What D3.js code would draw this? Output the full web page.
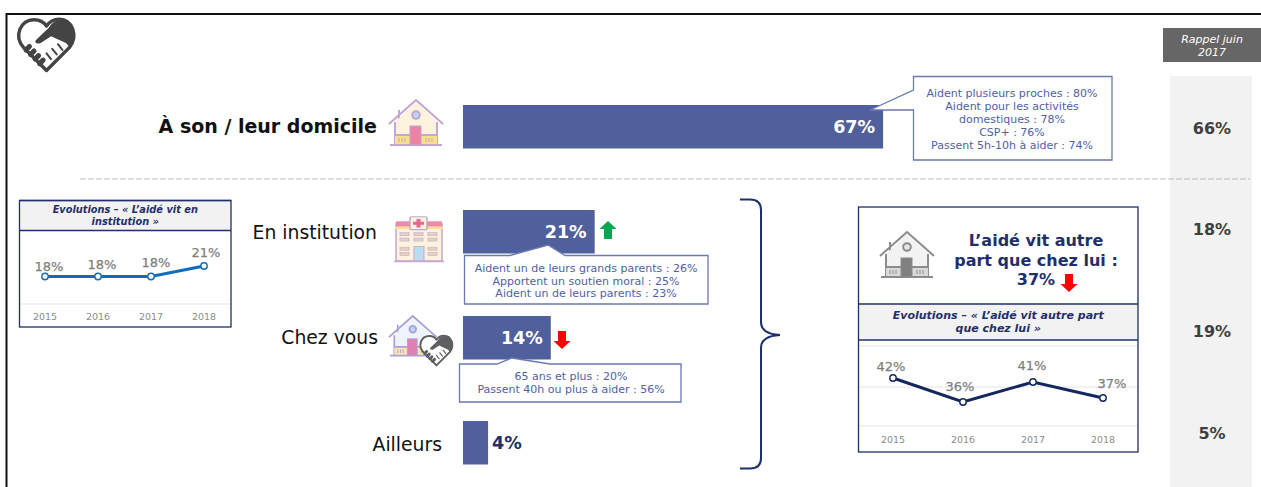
<!DOCTYPE html>
<html><head><meta charset="utf-8">
<script src="https://cdn.jsdelivr.net/npm/d3@7"></script>
<style>html,body{margin:0;padding:0;background:#fff;overflow:hidden}svg{display:block}text{font-family:"DejaVu Sans",Verdana,sans-serif}</style>
</head><body><svg id="c" width="1261" height="487"></svg>
<script>
const barCategories=["À son / leur domicile","En institution","Chez vous","Ailleurs"];
const barValues=[67,21,14,4];
const rappelValues=[66,18,19,5];
const years=["2015","2016","2017","2018"];
const institutionValues=[18,18,18,21];
const autrePartValues=[42,36,41,37];
const calloutDomicile=["Aident plusieurs proches : 80%","Aident pour les activités","domestiques : 78%","CSP+ : 76%","Passent 5h-10h à aider : 74%"];
const calloutInstitution=["Aident un de leurs grands parents : 26%","Apportent un soutien moral : 25%","Aident un de leurs parents : 23%"];
const calloutChezVous=["65 ans et plus : 20%","Passent 40h ou plus à aider : 56%"];

const NAVY="#1f2f6b",BAR="#50609c",BLUE="#5060a8",GREY="#7f7f7f";
const svg=d3.select("#c");
const T=(g,x,y,s,o={})=>g.append("text").attr("x",x).attr("y",y).attr("text-anchor",o.a||"middle")
  .attr("font-size",o.fs||12).attr("font-weight",o.b?"bold":"normal").attr("font-style",o.i?"italic":"normal")
  .attr("fill",o.c||"#000").text(s);

// frame
svg.append("path").attr("d","M6.5,487V14H1261").attr("fill","none").attr("stroke","#111").attr("stroke-width",2);

// Rappel column
svg.append("rect").attr("x",1170).attr("y",76).attr("width",82).attr("height",411).attr("fill","#f2f2f2");
svg.append("rect").attr("x",1163).attr("y",28).attr("width",98).attr("height",34).attr("fill","#666");
T(svg,1212,43,"Rappel juin",{fs:11,i:1,c:"#fff"});
T(svg,1212,56,"2017",{fs:11,i:1,c:"#fff"});
const rowY=[128,229,331,433];
rappelValues.forEach((v,i)=>T(svg,1212,rowY[i]+6,v+"%",{fs:16,b:1,c:"#404040"}));

// dashed separator
svg.append("line").attr("x1",80).attr("x2",1250).attr("y1",179).attr("y2",179).attr("stroke","#bdbdbd").attr("stroke-dasharray","6 2");

// bars
const x=d3.scaleLinear().domain([0,100]).range([0,627]);
const barTop=[105,210,316,421],barH=43.5;
const labelX=[377,377,378,442],labelY=[127,233,338,445];
barCategories.forEach((c,i)=>{
  svg.append("rect").attr("x",463).attr("y",barTop[i]).attr("width",x(barValues[i])).attr("height",barH).attr("fill",BAR);
  T(svg,labelX[i],labelY[i]+6,c,{a:"end",fs:i==0?19:18.8,b:i==0,c:"#111"});
});
barValues.forEach((v,i)=>{
  const inside=i<3, xx=463+x(v);
  T(svg,inside?xx-8:xx+4,barTop[i]+barH/2+6,v+"%",{a:inside?"end":"start",fs:17.5,b:1,c:inside?"#fff":NAVY});
});

// callouts
function callout(path,lines,cx,y0,lh,fs){
  svg.append("path").attr("d",path).attr("fill","#fff").attr("stroke","#6a78b4").attr("stroke-width",1.3);
  lines.forEach((l,i)=>T(svg,cx,y0+i*lh,l,{fs,c:BLUE}));
}
callout("M913.5,76.5H1112V160H913.5V110H870L913.5,90Z",calloutDomicile,1012,97,13.1,11);
callout("M464.5,255.5H510L548,245L565,255.5H708V304H464.5Z",calloutInstitution,586,272,12.7,11);
callout("M459.5,364H497L512,358L550,364H681V402H459.5Z",calloutChezVous,571,380,12.7,11);

// brace
svg.append("path").attr("d","M740,199.5H750Q761,199.5 761,210V322Q761,334 780,335Q761,336 761,348V458Q761,468.5 750,468.5H740")
  .attr("fill","none").attr("stroke",NAVY).attr("stroke-width",2);

// mini line charts
function mini(o){
  const g=svg.append("g");
  g.append("rect").attr("x",o.x0).attr("y",o.y0).attr("width",o.x1-o.x0).attr("height",o.y1-o.y0).attr("fill","#fff");
  g.append("rect").attr("x",o.x0).attr("y",o.hy0).attr("width",o.x1-o.x0).attr("height",o.hy1-o.hy0).attr("fill","#f2f2f2");
  o.grid.forEach(y=>g.append("line").attr("x1",o.x0).attr("x2",o.x1).attr("y1",y).attr("y2",y).attr("stroke","#e6e6e6").attr("stroke-width",1.2));
  g.append("rect").attr("x",o.x0).attr("y",o.y0).attr("width",o.x1-o.x0).attr("height",o.y1-o.y0).attr("fill","none").attr("stroke",NAVY).attr("stroke-width",1.3);
  [o.hy0,o.hy1].forEach(y=>g.append("line").attr("x1",o.x0).attr("x2",o.x1).attr("y1",y).attr("y2",y).attr("stroke",NAVY).attr("stroke-width",1.3));
  o.title.forEach((t,i)=>T(g,(o.x0+o.x1)/2,o.ty+i*o.tlh,t,{fs:o.tfs,b:1,i:1,c:NAVY}));
  const sx=d3.scalePoint().domain(years).range(o.xr);
  const sy=d3.scaleLinear().domain(o.yd).range(o.yr);
  g.append("path").attr("d",d3.line().x((d,i)=>sx(years[i])).y(d=>sy(d))(o.values)).attr("fill","none").attr("stroke",o.col).attr("stroke-width",3);
  o.values.forEach((v,i)=>{
    g.append("circle").attr("cx",sx(years[i])).attr("cy",sy(v)).attr("r",3.2).attr("fill","#fff").attr("stroke",o.col).attr("stroke-width",1.4);
    T(g,sx(years[i])+o.ldx[i],sy(v)+o.ldy[i],v+"%",{fs:o.lfs,b:0,c:GREY}).attr("stroke",GREY).attr("stroke-width",.25);
  });
  years.forEach(y=>T(g,sx(y),o.yy,y,{fs:9.5,c:"#8c8c8c"}));
}
mini({x0:19.5,x1:231,y0:200.5,y1:327,hy0:200.5,hy1:230.5,grid:[304],title:["Evolutions – « L’aidé vit en","institution »"],ty:213,tlh:12,tfs:9.8,
  xr:[45,204],yd:[18,21],yr:[276.5,266],values:institutionValues,col:"#0f6cbd",ldx:[4,4,5,2],ldy:[-6,-8,-10,-9],lfs:13,yy:320});
mini({x0:858.5,x1:1138,y0:207,y1:452,hy0:304,hy1:340,grid:[346,387,426],title:["Evolutions – « L’aidé vit autre part","que chez lui »"],ty:319,tlh:13,tfs:11,
  xr:[893,1103],yd:[36,42],yr:[402,378],values:autrePartValues,col:"#14285f",ldx:[-2,-3,-1,9],ldy:[-7,-11,-12,-10],lfs:13,yy:443});

// box heading
T(svg,1036,246,"L’aidé vit autre",{fs:16,b:1,c:NAVY});
T(svg,1036,266,"part que chez lui :",{fs:16,b:1,c:NAVY});
T(svg,1036,285,"37%",{fs:16,b:1,c:NAVY});

// arrows
const arrow=(cx,y0,y1,col)=>{const d=y1>y0?1:-1;const h=8*1;
  svg.append("path").attr("d",`M${cx-4},${y0}H${cx+4}V${y1-d*h}H${cx+8.5}L${cx},${y1}L${cx-8.5},${y1-d*h}H${cx-4}Z`).attr("fill",col);};
arrow(608,239,221,"#00a651");
arrow(562,331,349,"#f00");
arrow(1069,274,292,"#f00");

// icons
function house(px,py,s,p){
  const g=svg.append("g").attr("transform",`translate(${px},${py}) scale(${s})`);
  const line={stroke:p.line,"stroke-width":2,"stroke-linejoin":"round"};
  const a=(el,at)=>{Object.entries(at).forEach(([k,v])=>el.attr(k,v));return el;};
  a(g.append("path"),{d:"M10,10V22",fill:"none",...line});
  a(g.append("path"),{d:"M6,22L27,2L48,22V45H6Z",fill:p.wall,stroke:"none"});
  a(g.append("path"),{d:"M0,24L27,0L54,24",fill:"none",...line});
  a(g.append("path"),{d:"M6,22V45M48,22V45",fill:"none",...line});
  a(g.append("rect"),{x:6,y:35,width:42,height:9,fill:p.base});
  a(g.append("line"),{x1:1,x2:53,y1:45,y2:45,...line});
  a(g.append("line"),{x1:6,x2:48,y1:35,y2:35,...line});
  a(g.append("circle"),{cx:27,cy:15,r:3.8,fill:p.win,...line});
  a(g.append("rect"),{x:21,y:26,width:11,height:19,fill:p.door,stroke:p.line,"stroke-width":1});
  [10,13,16,37,40,43].forEach(d=>a(g.append("line"),{x1:d,x2:d,y1:38,y2:42,stroke:p.line,"stroke-width":1}));
}
function handshake(px,py,s,col){
  const g=svg.append("g").attr("transform",`translate(${px},${py}) scale(${s})`);
  const heart="M50,92L10,52C-8,32 4,3 28,3C38,3 46,8 50,14C55,7 64,2 72,2C96,2 106,32 90,52Z";
  g.append("path").attr("d",heart).attr("fill","#fff").attr("stroke",col).attr("stroke-width",6).attr("stroke-linejoin","round");
  g.append("path").attr("d","M32,38L54,17C60,8 66,4 72,4C96,4 106,32 90,50L84,44L58,32L40,44C32,46 28,42 32,38Z").attr("fill",col);
  g.append("path").attr("d","M14,56L20,50M22,64L28,58M30,72L36,66M38,80L44,74").attr("stroke",col).attr("stroke-width",9).attr("stroke-linecap","round");
  g.append("path").attr("d","M58,72L50,62M68,64L60,54M78,56L70,46").attr("stroke",col).attr("stroke-width",3.5).attr("stroke-linecap","round");
}
handshake(18,18,0.57,"#444");
house(389,100,1,{line:"#c4a6d0",wall:"#fdf2dd",base:"#f7df8e",win:"#b8d8f4",door:"#ee82a6"});
house(389,316,0.88,{line:"#a9a0d8",wall:"#eef3fc",base:"#f7e6a6",win:"#b8d8f4",door:"#e07fb4"});
handshake(420,335,0.33,"#5f5f5f");
house(880,232,1,{line:"#8c8c8c",wall:"#f2f2f2",base:"#d9d9d9",win:"#e6e6e6",door:"#808080"});

// hospital icon
(function(){
  const g=svg.append("g").attr("transform","translate(394,216) scale(1,0.76)"),L="#c4a6d0";
  g.append("rect").attr("x",2).attr("y",10).attr("width",46).attr("height",49).attr("fill","#fdf2dd").attr("stroke",L).attr("stroke-width",1.5);
  g.append("rect").attr("x",2).attr("y",7).attr("width",46).attr("height",7).attr("fill","#ee8aa8");
  g.append("rect").attr("x",1).attr("y",14).attr("width",48).attr("height",3).attr("fill","#f7df8e");
  g.append("rect").attr("x",16).attr("y",1).attr("width",17).attr("height",17).attr("rx",2).attr("fill","#fdf2dd").attr("stroke",L).attr("stroke-width",1.5);
  g.append("path").attr("d","M24.5,4V15M19,9.5H30").attr("stroke","#e8668e").attr("stroke-width",4);
  [6,20,34].forEach(a=>[22,29,41,48].forEach(b=>{ if(!(a==20&&b>35))
    g.append("rect").attr("x",a).attr("y",b).attr("width",9).attr("height",4).attr("fill","#e3d3b8").attr("stroke",L).attr("stroke-width",.7);}));
  g.append("rect").attr("x",20).attr("y",40).attr("width",10).attr("height",19).attr("fill","#bcdcf2").attr("stroke",L);
  g.append("line").attr("x1",0).attr("x2",50).attr("y1",60).attr("y2",60).attr("stroke",L).attr("stroke-width",2);
})();
</script></body></html>
